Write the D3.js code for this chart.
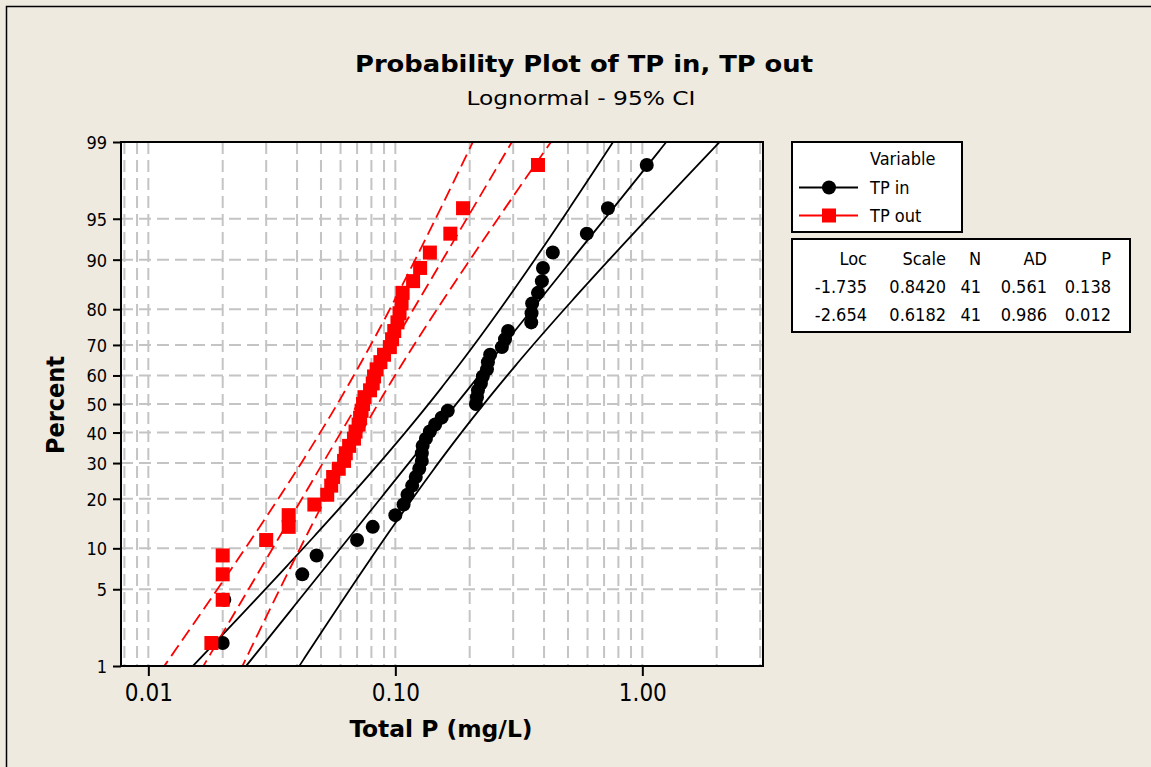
<!DOCTYPE html>
<html><head><meta charset="utf-8">
<script src="https://cdn.jsdelivr.net/npm/d3@7/dist/d3.min.js"></script>
<style>
html,body{margin:0;padding:0;background:#EEEAE0;}
svg{display:block;}
text{font-family:"DejaVu Sans Condensed","DejaVu Sans",sans-serif;fill:#000;}
</style></head>
<body>
<svg id="chart" width="1151" height="767"></svg>
<script>
// ---------- data ----------
const seriesNames = ["TP in", "TP out"];
const tpIn = [0.020, 0.0203, 0.042, 0.048, 0.070, 0.081, 0.100, 0.108, 0.112, 0.117,
              0.121, 0.125, 0.128, 0.128, 0.129, 0.133, 0.138, 0.145, 0.154, 0.163,
              0.212, 0.214, 0.216, 0.222, 0.226, 0.235, 0.237, 0.242, 0.270, 0.278,
              0.286, 0.355, 0.356, 0.358, 0.378, 0.392, 0.396, 0.434, 0.596, 0.726, 1.042];
const tpOut = [0.018, 0.020, 0.020, 0.020, 0.030, 0.037, 0.037, 0.047, 0.053, 0.055,
               0.056, 0.059, 0.062, 0.063, 0.065, 0.068, 0.069, 0.071, 0.072, 0.073,
               0.074, 0.075, 0.079, 0.081, 0.082, 0.084, 0.087, 0.090, 0.095, 0.097,
               0.099, 0.102, 0.104, 0.106, 0.107, 0.118, 0.126, 0.138, 0.167, 0.188, 0.378];
const statHeaders = ["Loc", "Scale", "N", "AD", "P"];
const locs   = [-1.735, -2.654];
const scales = [0.8420, 0.6182];
const ns     = [41, 41];
const ads    = [0.561, 0.986];
const pvals  = [0.138, 0.012];
const percentTicks = [1, 5, 10, 20, 30, 40, 50, 60, 70, 80, 90, 95, 99];
const xTickValues = [0.01, 0.1, 1];
const xGridValues = [0.008, 0.009, 0.01, 0.02, 0.03, 0.04, 0.05, 0.06, 0.07, 0.08, 0.09,
                     0.1, 0.2, 0.3, 0.4, 0.5, 0.6, 0.7, 0.8, 0.9, 1, 2, 3];
const xDomain = [0.00775, 3.08];
const percentDomain = [1, 99];

// ---------- helpers ----------
function probit(p){
  const a=[-3.969683028665376e+01,2.209460984245205e+02,-2.759285104469687e+02,1.383577518672690e+02,-3.066479806614716e+01,2.506628277459239e+00];
  const b=[-5.447609879822406e+01,1.615858368580409e+02,-1.556989798598866e+02,6.680131188771972e+01,-1.328068155288572e+01];
  const c=[-7.784894002430293e-03,-3.223964580411365e-01,-2.400758277161838e+00,-2.549732539343734e+00,4.374664141464968e+00,2.938163982698783e+00];
  const d=[7.784695709041462e-03,3.224671290700398e-01,2.445134137142996e+00,3.754408661907416e+00];
  const pl=0.02425, ph=1-pl;
  if(p<pl){const q=Math.sqrt(-2*Math.log(p));return (((((c[0]*q+c[1])*q+c[2])*q+c[3])*q+c[4])*q+c[5])/((((d[0]*q+d[1])*q+d[2])*q+d[3])*q+1);}
  if(p<=ph){const q=p-0.5,r=q*q;return (((((a[0]*r+a[1])*r+a[2])*r+a[3])*r+a[4])*r+a[5])*q/(((((b[0]*r+b[1])*r+b[2])*r+b[3])*r+b[4])*r+1);}
  const q=Math.sqrt(-2*Math.log(1-p));return -(((((c[0]*q+c[1])*q+c[2])*q+c[3])*q+c[4])*q+c[5])/((((d[0]*q+d[1])*q+d[2])*q+d[3])*q+1);
}

// ---------- layout ----------
const svg = d3.select("#chart");
const P = {left:121, right:763, top:142, bottom:666};
const x = d3.scaleLog().domain(xDomain).range([P.left, P.right]);
const zDomain = percentDomain.map(p => probit(p/100));
const yz = d3.scaleLinear().domain(zDomain).range([P.bottom, P.top]);
const y = p => yz(probit(p/100));

// outer frame (left and top edges visible)
svg.append("path").attr("d","M6.5,767 L6.5,6.5 L1151,6.5")
  .attr("fill","none").attr("stroke","#000").attr("stroke-width",1.5);

// title
svg.append("text").attr("x",584).attr("y",72).attr("text-anchor","middle")
  .style("font-size","23px").style("font-weight","bold")
  .attr("textLength",458).attr("lengthAdjust","spacingAndGlyphs")
  .text("Probability Plot of TP in, TP out");
svg.append("text").attr("x",581).attr("y",105).attr("text-anchor","middle")
  .style("font-size","20px").attr("textLength",229).attr("lengthAdjust","spacingAndGlyphs")
  .text("Lognormal - 95% CI");

// plot background
svg.append("rect").attr("x",P.left).attr("y",P.top).attr("width",P.right-P.left).attr("height",P.bottom-P.top)
  .attr("fill","#fff");

svg.append("clipPath").attr("id","clip").append("rect")
  .attr("x",P.left).attr("y",P.top).attr("width",P.right-P.left).attr("height",P.bottom-P.top);

// grid
const grid = svg.append("g").attr("stroke","#C4C4C4").attr("stroke-width",2).attr("stroke-dasharray","12,6");
grid.selectAll("line.v").data(xGridValues.filter(v => v>xDomain[0] && v<xDomain[1])).enter().append("line")
  .attr("x1",d=>x(d)).attr("x2",d=>x(d)).attr("y1",P.top).attr("y2",P.bottom);
grid.selectAll("line.h").data(percentTicks.filter(p => p>1 && p<99)).enter().append("line")
  .attr("x1",P.left).attr("x2",P.right).attr("y1",d=>y(d)).attr("y2",d=>y(d));

// fitted lines + CI bands
const lineGen = d3.line().x(d=>x(d[0])).y(d=>yz(d[1]));
const zs = d3.range(zDomain[0]-0.05, zDomain[1]+0.06, 0.02);
const colors = ["#000000", "#FF0000"];
const dashes = [null, "13,6"];
const lines = svg.append("g").attr("clip-path","url(#clip)");
[0,1].forEach(k => {
  const mu = locs[k], s = scales[k], n = ns[k];
  [-1, 0, 1].forEach(sg => {
    const pts = zs.map(z => {
      const se = s*Math.sqrt(1/n + z*z/(2*n));
      return [Math.exp(mu + z*s + sg*1.96*se), z];
    });
    lines.append("path").datum(pts).attr("d", lineGen).attr("fill","none")
      .attr("stroke", colors[k]).attr("stroke-width",1.8)
      .attr("stroke-dasharray", dashes[k]);
  });
});

// points (median ranks)
const pos = (i, n) => 100*(i+1-0.3)/(n+0.4);
const ptsG = svg.append("g").attr("clip-path","url(#clip)");
ptsG.selectAll("circle").data(tpIn).enter().append("circle")
  .attr("cx", d=>x(d)).attr("cy",(d,i)=>y(pos(i,tpIn.length))).attr("r",7).attr("fill","#000");
ptsG.selectAll("rect.sq").data(tpOut).enter().append("rect")
  .attr("x", d=>x(d)-7).attr("y",(d,i)=>y(pos(i,tpOut.length))-7).attr("width",14).attr("height",14).attr("fill","#FF0000");

// frame
svg.append("rect").attr("x",P.left).attr("y",P.top).attr("width",P.right-P.left).attr("height",P.bottom-P.top)
  .attr("fill","none").attr("stroke","#000").attr("stroke-width",2);

// axes
const yAxis = d3.axisLeft(yz).tickValues(percentTicks.map(p=>probit(p/100)))
  .tickFormat((d,i)=>String(percentTicks[i])).tickSize(8).tickPadding(6);
const gy = svg.append("g").attr("transform",`translate(${P.left},0)`).call(yAxis);
gy.select(".domain").remove();
gy.selectAll("line").attr("stroke","#000").attr("stroke-width",2);
gy.selectAll("text").style("font-size","18px").attr("dy","0.36em");

const xAxis = d3.axisBottom(x).tickValues(xTickValues).tickFormat(d3.format(".2f")).tickSize(10).tickPadding(8);
const gx = svg.append("g").attr("transform",`translate(0,${P.bottom})`).call(xAxis);
gx.select(".domain").remove();
gx.selectAll("line").attr("stroke","#000").attr("stroke-width",2);
gx.selectAll("text").style("font-size","24px").attr("dy","0.72em");

// axis titles
svg.append("text").attr("x",441).attr("y",737).attr("text-anchor","middle")
  .style("font-size","23px").style("font-weight","bold")
  .attr("textLength",183).attr("lengthAdjust","spacingAndGlyphs").text("Total P (mg/L)");
svg.append("text").attr("transform","translate(64,405) rotate(-90)").attr("text-anchor","middle")
  .style("font-size","24px").style("font-weight","bold")
  .attr("textLength",98).attr("lengthAdjust","spacingAndGlyphs").text("Percent");

// legend
const L = svg.append("g");
L.append("rect").attr("x",792).attr("y",142).attr("width",170).attr("height",90)
  .attr("fill","#fff").attr("stroke","#000").attr("stroke-width",2);
L.append("text").attr("x",870).attr("y",165).style("font-size","18px").text("Variable");
seriesNames.forEach((nm,k) => {
  const yy = 187.5 + k*28;
  L.append("line").attr("x1",799).attr("x2",858).attr("y1",yy).attr("y2",yy)
    .attr("stroke",colors[k]).attr("stroke-width",2);
  if(k===0) L.append("circle").attr("cx",829).attr("cy",yy).attr("r",7).attr("fill","#000");
  else L.append("rect").attr("x",822).attr("y",yy-7).attr("width",14).attr("height",14).attr("fill","#FF0000");
  L.append("text").attr("x",870).attr("y",yy+6).style("font-size","18px").text(nm);
});

// stats table
const T = svg.append("g");
T.append("rect").attr("x",792).attr("y",239).attr("width",338).attr("height",93)
  .attr("fill","#fff").attr("stroke","#000").attr("stroke-width",2);
const colX = [867, 946, 981, 1047, 1111];
statHeaders.forEach((h,j) => T.append("text").attr("x",colX[j]).attr("y",265)
  .attr("text-anchor","end").style("font-size","18px").text(h));
[0,1].forEach(k => {
  const vals = [locs[k].toFixed(3), scales[k].toFixed(4), String(ns[k]), ads[k].toFixed(3), pvals[k].toFixed(3)];
  vals.forEach((v,j) => T.append("text").attr("x",colX[j]).attr("y",293+k*28)
    .attr("text-anchor","end").style("font-size","18px").text(v));
});
</script>
</body></html>
